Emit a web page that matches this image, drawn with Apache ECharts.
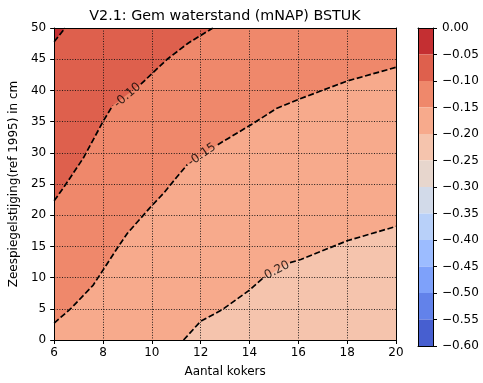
<!DOCTYPE html>
<html>
<head>
<meta charset="utf-8">
<script src="https://cdn.jsdelivr.net/npm/echarts@6/dist/echarts.min.js"></script>
<style>html,body{margin:0;padding:0;background:#fff;}#c{width:483px;height:383px;}</style>
</head>
<body>
<div id="c"></div>
<script>
// contour lines: [aantal kokers, zeespiegelstijging cm]
const c005 = [[6, 47.8], [6.45, 50]];
const c010a = [[6, 22.3], [6.45, 24.8], [7.2, 29.2], [8.0, 35.0], [8.4, 37.6]];
const c010b = [[9.55, 41.0], [10.63, 45.0], [11.5, 47.6], [12.5, 50]];
const c015a = [[6, 2.7], [6.7, 5.1], [7.6, 8.8], [8.0, 11.2], [8.7, 15.4], [9.0, 17.1], [9.9, 21.1], [10.5, 23.6], [11.0, 26.0], [11.45, 28.1]];
const c015b = [[12.7, 31.3], [14.15, 34.7], [15.1, 37.1], [16.1, 38.7], [18, 41.5], [20, 43.7]];
const c020a = [[11.3, 0], [12.0, 3.0], [12.9, 4.9], [14.0, 8.0], [14.55, 9.9]];
const c020b = [[15.66, 12.4], [16.1, 12.9], [18, 15.9], [20, 18.2]];
// contour labels [x, y, text, angle]
const contourLabels = [[9.0, 39.2, '-0.10', 41], [12.05, 29.7, '-0.15', 35], [15.05, 11.0, '-0.20', 28]];
// levels and band colours (coolwarm)
const levelTicks = [0, -5, -10, -15, -20, -25, -30, -35, -40, -45, -50, -55, -60]; // in 0.01 m
const bandColors = ['#c42f32', '#de604d', '#ef886b', '#f7aa8c', '#f5c4ad', '#e7d6cd', '#d2dae9', '#b8d0f9', '#9cbcff', '#7ea1fa', '#6282ea', '#475fd0'];
const xTicks = [6, 8, 10, 12, 14, 16, 18, 20];
const yTicks = [0, 5, 10, 15, 20, 25, 30, 35, 40, 45, 50];

const FONT = 'DejaVu Sans';
const chart = echarts.init(document.getElementById('c'), null, {renderer: 'canvas'});

function areaSeries(data, color) {
  return {type: 'line', xAxisIndex: 0, yAxisIndex: 0, data: data, symbol: 'none', silent: true,
    lineStyle: {width: 0, opacity: 0}, areaStyle: {color: color, opacity: 1, origin: 'end'}, z: 1, animation: false};
}
function lineSeries(data) {
  return {type: 'line', xAxisIndex: 0, yAxisIndex: 0, data: data, symbol: 'none', silent: true,
    lineStyle: {color: '#000', width: 1.7, type: [6, 2.6]}, z: 3, animation: false};
}

const series = [
  areaSeries([[6, 0]].concat(c020a, c020b), bandColors[3]),
  areaSeries(c015a.concat(c015b), bandColors[2]),
  areaSeries(c010a.concat(c010b, [[20, 50]]), bandColors[1]),
  areaSeries(c005, bandColors[0]),
  lineSeries(c005), lineSeries(c010a), lineSeries(c010b),
  lineSeries(c015a), lineSeries(c015b), lineSeries(c020a), lineSeries(c020b),
  {type: 'scatter', xAxisIndex: 0, yAxisIndex: 0, symbolSize: 0, silent: true, z: 4, animation: false,
    data: contourLabels.map(d => ({value: [d[0], d[1]], label: {rotate: d[3], formatter: d[2]}})),
    label: {show: true, position: 'inside', color: '#000', fontFamily: FONT, fontSize: 12}}
];
bandColors.forEach((c, i) => {
  series.push({type: 'bar', xAxisIndex: 2, yAxisIndex: 2, stack: 'cb', data: [levelTicks[i + 1] - levelTicks[i]],
    barWidth: '100%', itemStyle: {color: c}, silent: true, animation: false, z: 1});
});

const axisFont = {fontFamily: FONT, fontSize: 12, color: '#000'};
chart.setOption({
  animation: false,
  graphic: [{type: 'text', x: 225, y: 16, style: {text: 'V2.1: Gem waterstand (mNAP) BSTUK', font: '14.3px "DejaVu Sans"', fill: '#000', textAlign: 'center', textVerticalAlign: 'middle'}}],
  grid: [
    {left: 54, top: 28, width: 342, height: 318, show: true, backgroundColor: bandColors[4], borderWidth: 0},
    {left: 418, top: 28, width: 15, height: 318, show: false}
  ],
  xAxis: [
    {type: 'value', gridIndex: 0, min: 6, max: 20, interval: 2, position: 'bottom', z: 5,
      name: 'Aantal kokers', nameLocation: 'middle', nameGap: 26, nameTextStyle: axisFont,
      axisLine: {show: true, onZero: false, lineStyle: {color: '#000', width: 1}},
      axisTick: {show: true, length: 4, lineStyle: {color: '#000'}},
      axisLabel: Object.assign({margin: 7, formatter: v => xTicks.includes(v) ? String(v) : ''}, axisFont),
      splitLine: {show: true, lineStyle: {color: '#111', width: 0.9, type: [1, 1.6]}}},
    {type: 'value', gridIndex: 0, min: 6, max: 20, position: 'top', z: 5,
      axisLine: {show: true, onZero: false, lineStyle: {color: '#000', width: 1}},
      axisTick: {show: false}, axisLabel: {show: false}, splitLine: {show: false}},
    {type: 'category', gridIndex: 1, data: ['cb'], position: 'bottom', z: 5,
      axisLine: {show: true, onZero: false, lineStyle: {color: '#000'}}, axisTick: {show: false}, axisLabel: {show: false}},
    {type: 'category', gridIndex: 1, data: ['cb'], position: 'top', z: 5,
      axisLine: {show: true, onZero: false, lineStyle: {color: '#000'}}, axisTick: {show: false}, axisLabel: {show: false}}
  ],
  yAxis: [
    {type: 'value', gridIndex: 0, min: 0, max: 50, interval: 5, position: 'left', z: 5,
      name: 'Zeespiegelstijging(ref 1995) in cm', nameLocation: 'middle', nameGap: 27, nameTextStyle: axisFont,
      axisLine: {show: true, onZero: false, lineStyle: {color: '#000', width: 1}},
      axisTick: {show: true, length: 4, lineStyle: {color: '#000'}},
      axisLabel: Object.assign({margin: 8, formatter: v => yTicks.includes(v) ? String(v) : ''}, axisFont),
      splitLine: {show: true, lineStyle: {color: '#111', width: 0.9, type: [1, 1.6]}}},
    {type: 'value', gridIndex: 0, min: 0, max: 50, position: 'right', z: 5,
      axisLine: {show: true, onZero: false, lineStyle: {color: '#000', width: 1}},
      axisTick: {show: false}, axisLabel: {show: false}, splitLine: {show: false}},
    {type: 'value', gridIndex: 1, min: -60, max: 0, interval: 5, position: 'right', z: 5,
      axisLine: {show: true, onZero: false, lineStyle: {color: '#000'}},
      axisTick: {show: true, length: 4, lineStyle: {color: '#000'}},
      axisLabel: Object.assign({margin: 9, formatter: v => (v < 0 ? '\u2212' : '') + (Math.abs(v) / 100).toFixed(2)}, axisFont),
      splitLine: {show: false}},
    {type: 'value', gridIndex: 1, min: -60, max: 0, position: 'left', z: 5,
      axisLine: {show: true, onZero: false, lineStyle: {color: '#000'}},
      axisTick: {show: false}, axisLabel: {show: false}, splitLine: {show: false}}
  ],
  series: series
});
</script>
</body>
</html>
